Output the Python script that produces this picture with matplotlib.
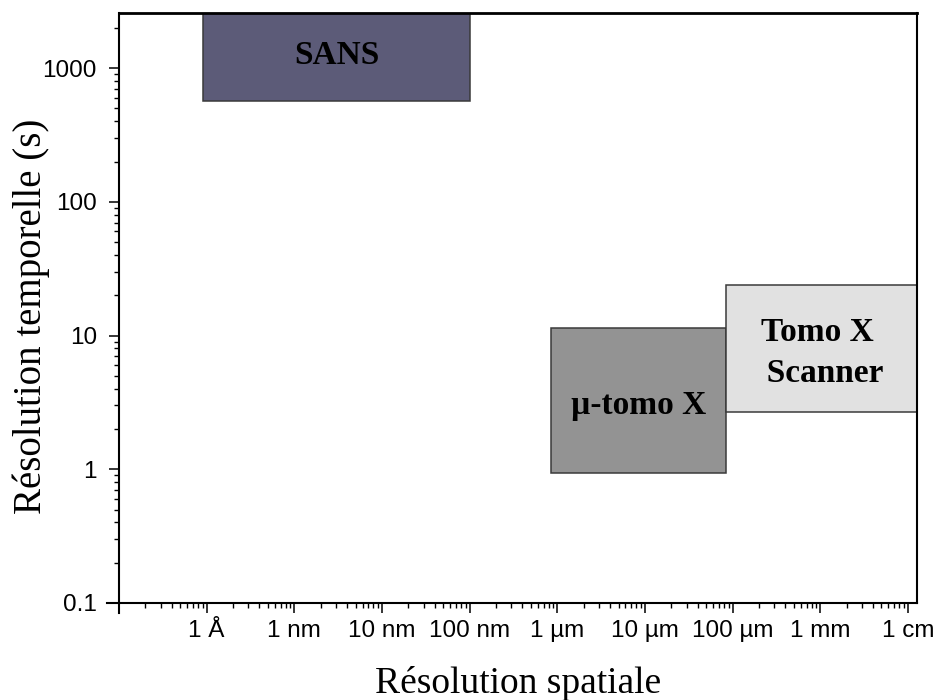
"""
Resolution spatiale / temporelle des techniques d'imagerie
"""

import numpy as np
import matplotlib
matplotlib.use("Agg")
import matplotlib.pyplot as plt
from matplotlib.patches import Rectangle
from matplotlib.ticker import FixedLocator, NullFormatter

# techniques and their domains (x in metres, t in seconds)
methods = ["SANS", "µ-tomo X", "Tomo X\n  Scanner"]
x_min = [9.2e-11, 8.4e-7, 8.4e-5]
x_max = [1.0e-7, 8.4e-5, 1.3e-2]
t_min = [570, 0.94, 2.7]
t_max = [3000, 11.3, 23.7]
box_colors = ["#5c5b78", "#939393", "#e1e1e1"]
label_shift = [(0, -2), (0, -3.5), (-3.5, -3.5)]  # small nudges, in points

x_ticks = [1e-10, 1e-9, 1e-8, 1e-7, 1e-6, 1e-5, 1e-4, 1e-3, 1e-2]
x_labels = ["1 Å", "1 nm", "10 nm", "100 nm", "1 µm", "10 µm", "100 µm", "1 mm", "1 cm"]
y_ticks = [0.1, 1, 10, 100, 1000]
y_labels = ["0.1", "1", "10", "100", "1000"]


def main():
    fig = plt.figure(figsize=(9.4, 7), dpi=100)
    ax = fig.add_axes([0.1266, 0.1386, 0.8489, 0.8428])
    ax.set_xscale("log")
    ax.set_yscale("log")
    ax.set_xlim(1e-11, 1.27e-2)
    ax.set_ylim(0.1, 2580)

    for name, x0, x1, y0, y1, c, off in zip(methods, x_min, x_max, t_min, t_max,
                                            box_colors, label_shift):
        ax.add_patch(Rectangle((x0, y0), x1 - x0, y1 - y0, facecolor=c,
                               edgecolor="#3a3a3a", linewidth=1.1, zorder=2))
        ax.annotate(name, (np.sqrt(x0 * x1), np.sqrt(y0 * y1)), xytext=off,
                    textcoords="offset points", ha="center", va="center",
                    multialignment="center", linespacing=1.42, fontsize=24,
                    fontweight="bold", family="Liberation Serif", zorder=3)

    # ticks
    ax.xaxis.set_major_locator(FixedLocator(x_ticks))
    ax.set_xticklabels(x_labels)
    minors = [m * 10.0 ** e for e in range(-11, -1) for m in range(2, 10)]
    ax.xaxis.set_minor_locator(FixedLocator(minors))
    ax.xaxis.set_minor_formatter(NullFormatter())
    ax.yaxis.set_major_locator(FixedLocator(y_ticks))
    ax.set_yticklabels(y_labels)
    yminors = [m * 10.0 ** e for e in range(-1, 4) for m in range(2, 10)]
    ax.yaxis.set_minor_locator(FixedLocator(yminors))
    ax.yaxis.set_minor_formatter(NullFormatter())

    ax.tick_params(which="major", direction="out", length=7, width=1.1,
                   labelsize=17.5)
    ax.tick_params(axis="x", which="major", pad=5)
    ax.tick_params(axis="y", which="major", pad=9)
    ax.tick_params(which="minor", direction="out", length=3.5, width=1.0)
    ax.tick_params(top=False, right=False)
    for lab in ax.get_xticklabels() + ax.get_yticklabels():
        lab.set_family("Liberation Sans")

    for s in ["left", "bottom", "right"]:
        ax.spines[s].set_linewidth(1.5)
    ax.spines["top"].set_linewidth(2.0)

    # axes crossing at the origin, Origin style
    ax.plot([-0.015, 0], [0, 0], transform=ax.transAxes, color="black",
            linewidth=1.5, clip_on=False)
    ax.plot([0, 0], [-0.017, 0], transform=ax.transAxes, color="black",
            linewidth=1.5, clip_on=False)

    ax.set_xlabel("Résolution spatiale", family="Liberation Serif", fontsize=27)
    ax.set_ylabel("Résolution temporelle (s)", family="Liberation Serif", fontsize=28)
    ax.xaxis.set_label_coords(0.5, -0.106)
    ax.yaxis.set_label_coords(-0.086, 0.486)

    fig.savefig("out.png", dpi=100)
    return 0


if __name__ == "__main__":
    main()
